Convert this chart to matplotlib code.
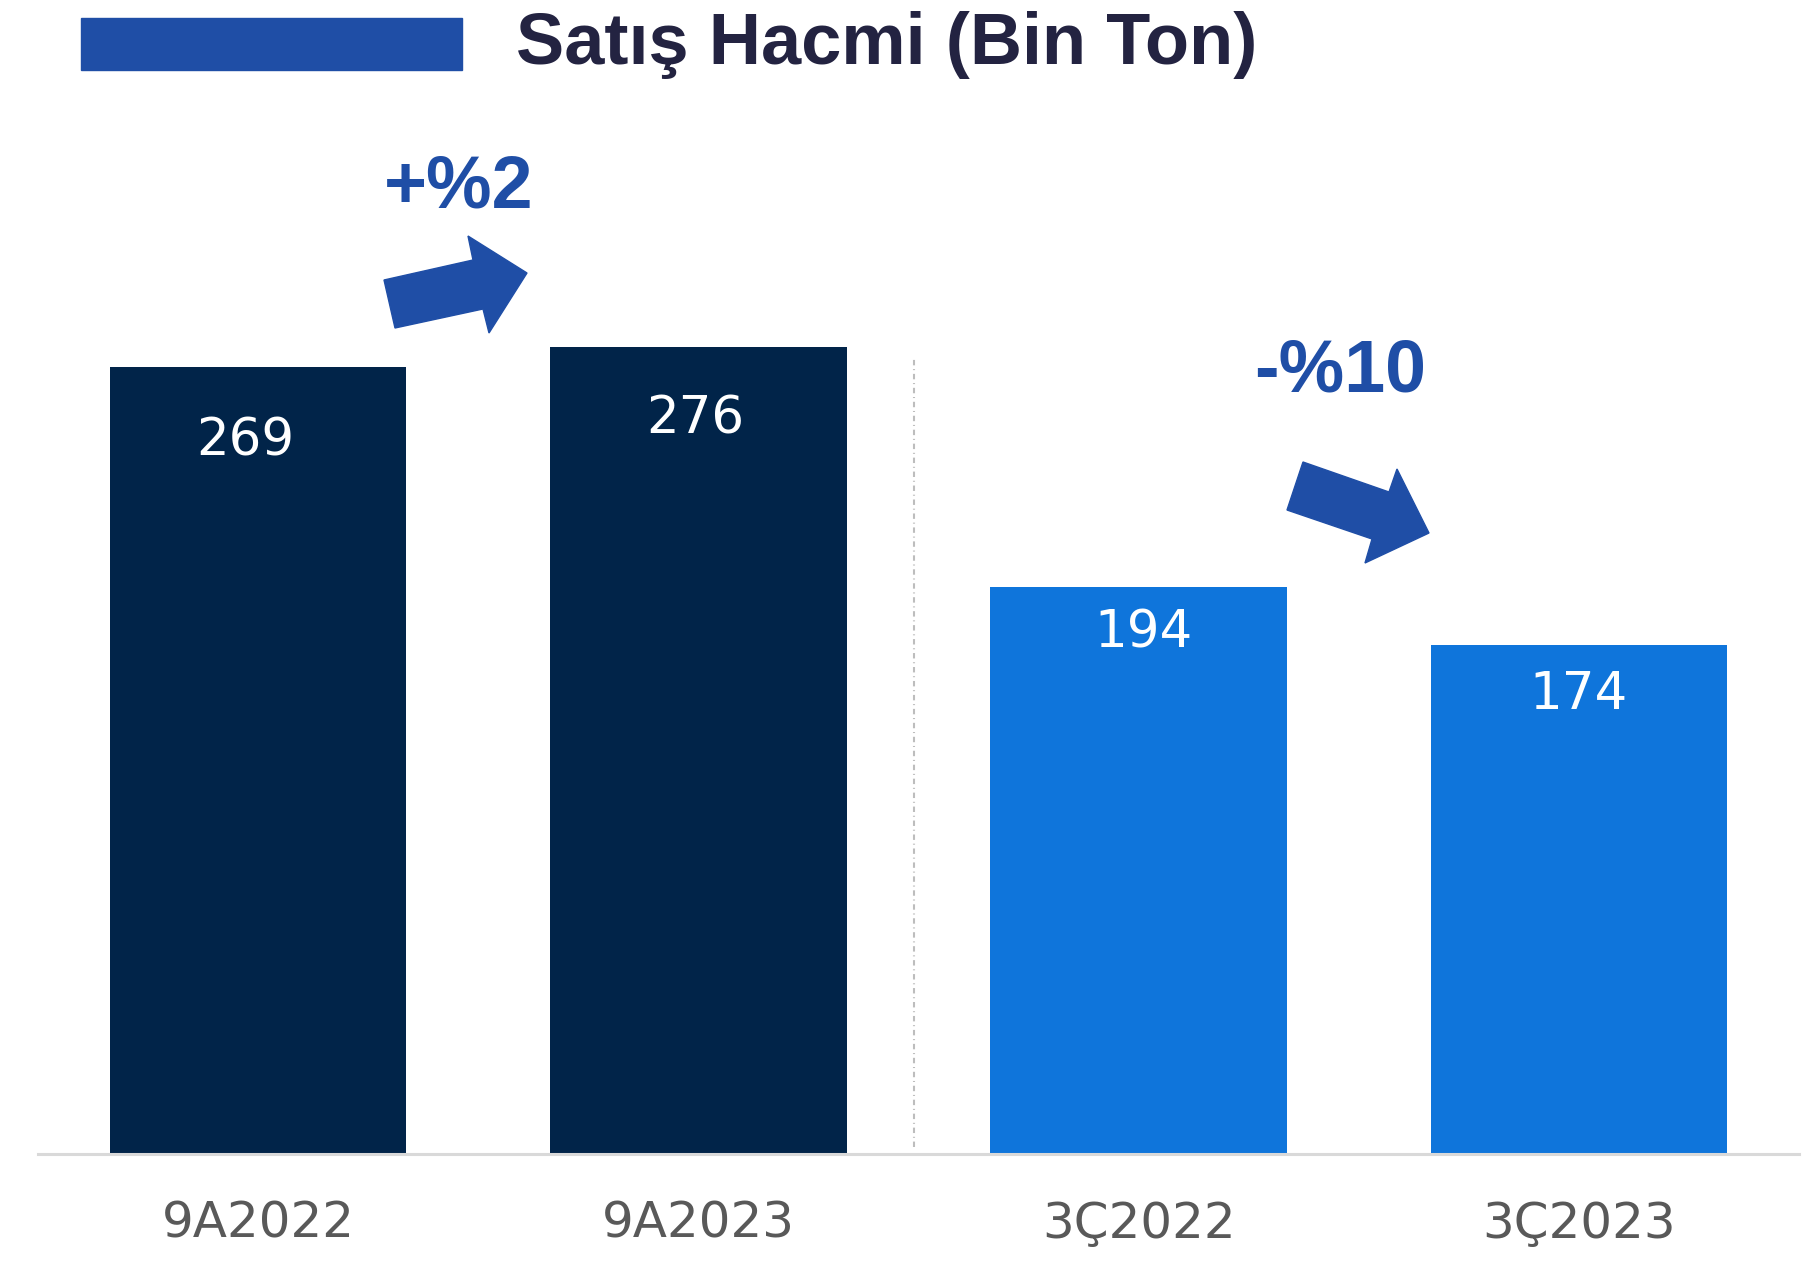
import matplotlib.pyplot as plt
from matplotlib.patches import Polygon

# data
categories = ["9A2022", "9A2023", "3Ç2022", "3Ç2023"]
volumes = [269, 276, 194, 174]
bar_colors = ["#012449", "#012449", "#0F75DB", "#0F75DB"]
changes = ["+%2", "-%10"]
title = "Satış Hacmi (Bin Ton)"

W, H = 1808, 1265
BLUE = "#1F4EA6"

fig = plt.figure(figsize=(W / 100, H / 100), dpi=100)
ax = fig.add_axes([38 / W, 1 - 1154 / H, 1761 / W, 1154 / H])

x = range(len(categories))
bars = ax.bar(x, volumes, width=0.673, color=bar_colors, zorder=2)

# white value labels, sitting a little below the bar top
label_drop = [25.5, 25.0, 16.0, 17.0]
label_nudge = [-0.03, -0.008, 0.01, 0.0]
for rect, v, d, n in zip(bars, volumes, label_drop, label_nudge):
    ax.text(rect.get_x() + rect.get_width() / 2 + n, v - d, str(v),
            ha="center", va="center", color="white", fontsize=37,
            family="DejaVu Sans", zorder=3)

ax.set_xlim(-0.5, 3.5)
ax.set_ylim(0, 1154 / 2.925)

# dashed separator between the two periods
ax.plot([1.49, 1.49], [2.4, 272.5], color="#BDBDBD", lw=1.5,
        linestyle=(0, (2.6, 1.8, 0.5, 1.8)), zorder=1)

for s in ["top", "right", "left"]:
    ax.spines[s].set_visible(False)
ax.spines["bottom"].set_color("#D9D9D9")
ax.spines["bottom"].set_linewidth(2.2)
ax.set_yticks([])
ax.set_xticks(list(x))
ax.set_xticklabels(categories, fontsize=36, color="#595959", family="DejaVu Sans")
ax.tick_params(axis="x", length=0, pad=33)


def px(pts):
    # pixel coords (top-left origin) -> figure fraction
    return [(a / W, 1 - b / H) for a, b in pts]


# title with the blue legend block
fig.patches.append(Polygon(px([(81, 18), (462, 18), (462, 70), (81, 70)]),
                           closed=True, transform=fig.transFigure,
                           color="#1F4EA6"))
fig.text(516 / W, 1 - 64 / H, title, fontsize=52, fontweight="bold",
         color="#232341", family="Liberation Sans", ha="left", va="baseline")

# change arrows
arrow_up = [(384, 280), (473, 260), (468, 236), (527, 273),
            (489, 333), (483, 309), (395, 328)]
arrow_down = [(1303, 462), (1389, 492), (1397, 469), (1429, 533),
              (1365, 563), (1372, 539), (1287, 510)]
for pts in (arrow_up, arrow_down):
    fig.patches.append(Polygon(px(pts), closed=True, transform=fig.transFigure,
                               color=BLUE))

fig.text(459 / W, 1 - 207 / H, changes[0], fontsize=53, fontweight="bold",
         color=BLUE, family="Liberation Sans", ha="center", va="baseline")
fig.text(1340 / W, 1 - 391 / H, changes[1], fontsize=53, fontweight="bold",
         color=BLUE, family="Liberation Sans", ha="center", va="baseline")

fig.savefig("out.png", dpi=100)
